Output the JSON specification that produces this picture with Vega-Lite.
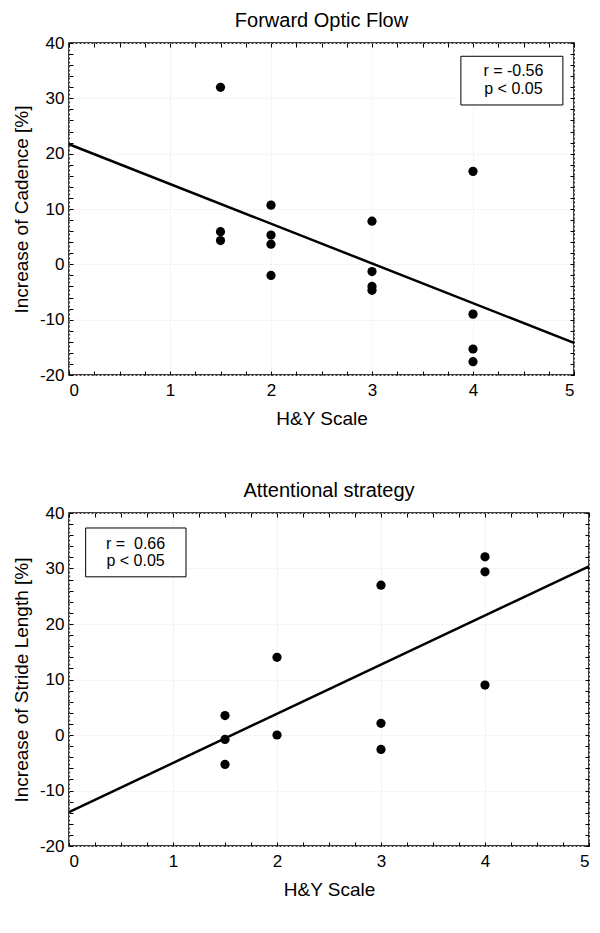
{
  "$schema": "https://vega.github.io/schema/vega-lite/v6.json",
  "background": "white",
  "padding": {"left": 11, "top": 10, "right": 5, "bottom": 5},
  "config": {
    "font": "Liberation Sans",
    "view": {"stroke": "black", "strokeWidth": 1.5},
    "title": {"font": "Liberation Sans", "fontSize": 20, "fontWeight": "normal", "offset": 3},
    "axis": {
      "labelFont": "Liberation Sans", "titleFont": "Liberation Sans",
      "labelFontSize": 17, "titleFontSize": 19, "titleFontWeight": "normal",
      "labelColor": "black", "titleColor": "black", "tickColor": "black",
      "domain": false, "gridColor": "#ececec", "gridDash": [2, 2], "gridWidth": 1
    }
  },
  "datasets": {
    "pts1": [
      {"hy": 1.5, "v": 32.0}, {"hy": 1.5, "v": 5.9}, {"hy": 1.5, "v": 4.3},
      {"hy": 2, "v": 10.7}, {"hy": 2, "v": 5.3}, {"hy": 2, "v": 3.65}, {"hy": 2, "v": -2.0},
      {"hy": 3, "v": 7.8}, {"hy": 3, "v": -1.3}, {"hy": 3, "v": -4.0}, {"hy": 3, "v": -4.7},
      {"hy": 4, "v": 16.8}, {"hy": 4, "v": -9.0}, {"hy": 4, "v": -15.3}, {"hy": 4, "v": -17.6}
    ],
    "line1": [{"hy": 0, "v": 21.7}, {"hy": 5, "v": -14.2}],
    "box1": [{"x1": 3.88, "x2": 4.89, "y1": 28.8, "y2": 37.6}],
    "txt1": [{"hy": 4.4, "v": 34.9, "t": "r = -0.56"}, {"hy": 4.4, "v": 31.7, "t": "p < 0.05"}],
    "pts2": [
      {"hy": 1.5, "v": 3.5}, {"hy": 1.5, "v": -0.8}, {"hy": 1.5, "v": -5.3},
      {"hy": 2, "v": 14.0}, {"hy": 2, "v": 0.0},
      {"hy": 3, "v": 27.0}, {"hy": 3, "v": 2.1}, {"hy": 3, "v": -2.6},
      {"hy": 4, "v": 32.1}, {"hy": 4, "v": 29.4}, {"hy": 4, "v": 9.0}
    ],
    "line2": [{"hy": 0, "v": -13.9}, {"hy": 5, "v": 30.4}],
    "box2": [{"x1": 0.16, "x2": 1.125, "y1": 28.5, "y2": 37.3}],
    "txt2": [{"hy": 0.64, "v": 34.4, "t": "r = \u00a00.66"}, {"hy": 0.64, "v": 31.3, "t": "p < 0.05"}]
  },
  "vconcat": [
    {
      "title": "Forward Optic Flow",
      "width": 505, "height": 332,
      "resolve": {"axis": {"x": "independent", "y": "independent"}},
      "layer": [
        {
          "data": {"name": "pts1"},
          "mark": {"type": "point", "filled": true, "color": "black", "size": 85, "opacity": 1},
          "encoding": {
            "x": {"field": "hy", "type": "quantitative", "scale": {"domain": [0, 5], "nice": false, "zero": false},
              "axis": {"title": "H&Y Scale", "orient": "bottom", "values": [0,0.25,0.5,0.75,1,1.25,1.5,1.75,2,2.25,2.5,2.75,3,3.25,3.5,3.75,4,4.25,4.5,4.75,5],
                "labelExpr": "datum.value % 1 === 0 ? '' + datum.value : ''", "tickSize": -4, "labelPadding": 11, "titlePadding": 11,
                "gridOpacity": {"condition": {"test": "datum.value % 1 === 0", "value": 1}, "value": 0}}},
            "y": {"field": "v", "type": "quantitative", "scale": {"domain": [-20, 40], "nice": false, "zero": false},
              "axis": {"title": "Increase of Cadence [%]", "orient": "left", "values": [-20,-18,-16,-14,-12,-10,-8,-6,-4,-2,0,2,4,6,8,10,12,14,16,18,20,22,24,26,28,30,32,34,36,38,40],
                "labelExpr": "datum.value % 10 === 0 ? '' + datum.value : ''", "tickSize": -4, "labelPadding": 9, "titlePadding": 8,
                "gridOpacity": {"condition": {"test": "datum.value % 10 === 0", "value": 1}, "value": 0}}}
          }
        },
        {
          "data": {"name": "line1"},
          "mark": {"type": "line", "color": "black", "strokeWidth": 2.5},
          "encoding": {
            "x": {"field": "hy", "type": "quantitative",
              "axis": {"orient": "top", "title": null, "labels": false, "grid": false, "tickSize": -4, "values": [0,0.25,0.5,0.75,1,1.25,1.5,1.75,2,2.25,2.5,2.75,3,3.25,3.5,3.75,4,4.25,4.5,4.75,5]}},
            "y": {"field": "v", "type": "quantitative",
              "axis": {"orient": "right", "title": null, "labels": false, "grid": false, "tickSize": -4, "values": [-20,-18,-16,-14,-12,-10,-8,-6,-4,-2,0,2,4,6,8,10,12,14,16,18,20,22,24,26,28,30,32,34,36,38,40]}}
          }
        },
        {
          "data": {"name": "box1"},
          "mark": {"type": "rect", "fill": "white", "stroke": "black", "strokeWidth": 1},
          "encoding": {
            "x": {"field": "x1", "type": "quantitative", "axis": null},
            "x2": {"field": "x2"},
            "y": {"field": "y1", "type": "quantitative", "axis": null},
            "y2": {"field": "y2"}
          }
        },
        {
          "data": {"name": "txt1"},
          "mark": {"type": "text", "fontSize": 16, "color": "black", "align": "center", "baseline": "middle"},
          "encoding": {
            "x": {"field": "hy", "type": "quantitative", "axis": null},
            "y": {"field": "v", "type": "quantitative", "axis": null},
            "text": {"field": "t"}
          }
        }
      ]
    },
    {
      "title": "Attentional strategy",
      "width": 520, "height": 333,
      "resolve": {"axis": {"x": "independent", "y": "independent"}},
      "layer": [
        {
          "data": {"name": "pts2"},
          "mark": {"type": "point", "filled": true, "color": "black", "size": 85, "opacity": 1},
          "encoding": {
            "x": {"field": "hy", "type": "quantitative", "scale": {"domain": [0, 5], "nice": false, "zero": false},
              "axis": {"title": "H&Y Scale", "orient": "bottom", "values": [0,0.25,0.5,0.75,1,1.25,1.5,1.75,2,2.25,2.5,2.75,3,3.25,3.5,3.75,4,4.25,4.5,4.75,5],
                "labelExpr": "datum.value % 1 === 0 ? '' + datum.value : ''", "tickSize": -4, "labelPadding": 11, "titlePadding": 11,
                "gridOpacity": {"condition": {"test": "datum.value % 1 === 0", "value": 1}, "value": 0}}},
            "y": {"field": "v", "type": "quantitative", "scale": {"domain": [-20, 40], "nice": false, "zero": false},
              "axis": {"title": "Increase of Stride Length [%]", "orient": "left", "values": [-20,-18,-16,-14,-12,-10,-8,-6,-4,-2,0,2,4,6,8,10,12,14,16,18,20,22,24,26,28,30,32,34,36,38,40],
                "labelExpr": "datum.value % 10 === 0 ? '' + datum.value : ''", "tickSize": -4, "labelPadding": 9, "titlePadding": 8,
                "gridOpacity": {"condition": {"test": "datum.value % 10 === 0", "value": 1}, "value": 0}}}
          }
        },
        {
          "data": {"name": "line2"},
          "mark": {"type": "line", "color": "black", "strokeWidth": 2.5},
          "encoding": {
            "x": {"field": "hy", "type": "quantitative",
              "axis": {"orient": "top", "title": null, "labels": false, "grid": false, "tickSize": -4, "values": [0,0.25,0.5,0.75,1,1.25,1.5,1.75,2,2.25,2.5,2.75,3,3.25,3.5,3.75,4,4.25,4.5,4.75,5]}},
            "y": {"field": "v", "type": "quantitative",
              "axis": {"orient": "right", "title": null, "labels": false, "grid": false, "tickSize": -4, "values": [-20,-18,-16,-14,-12,-10,-8,-6,-4,-2,0,2,4,6,8,10,12,14,16,18,20,22,24,26,28,30,32,34,36,38,40]}}
          }
        },
        {
          "data": {"name": "box2"},
          "mark": {"type": "rect", "fill": "white", "stroke": "black", "strokeWidth": 1},
          "encoding": {
            "x": {"field": "x1", "type": "quantitative", "axis": null},
            "x2": {"field": "x2"},
            "y": {"field": "y1", "type": "quantitative", "axis": null},
            "y2": {"field": "y2"}
          }
        },
        {
          "data": {"name": "txt2"},
          "mark": {"type": "text", "fontSize": 16, "color": "black", "align": "center", "baseline": "middle"},
          "encoding": {
            "x": {"field": "hy", "type": "quantitative", "axis": null},
            "y": {"field": "v", "type": "quantitative", "axis": null},
            "text": {"field": "t"}
          }
        }
      ]
    }
  ],
  "spacing": 51
}
